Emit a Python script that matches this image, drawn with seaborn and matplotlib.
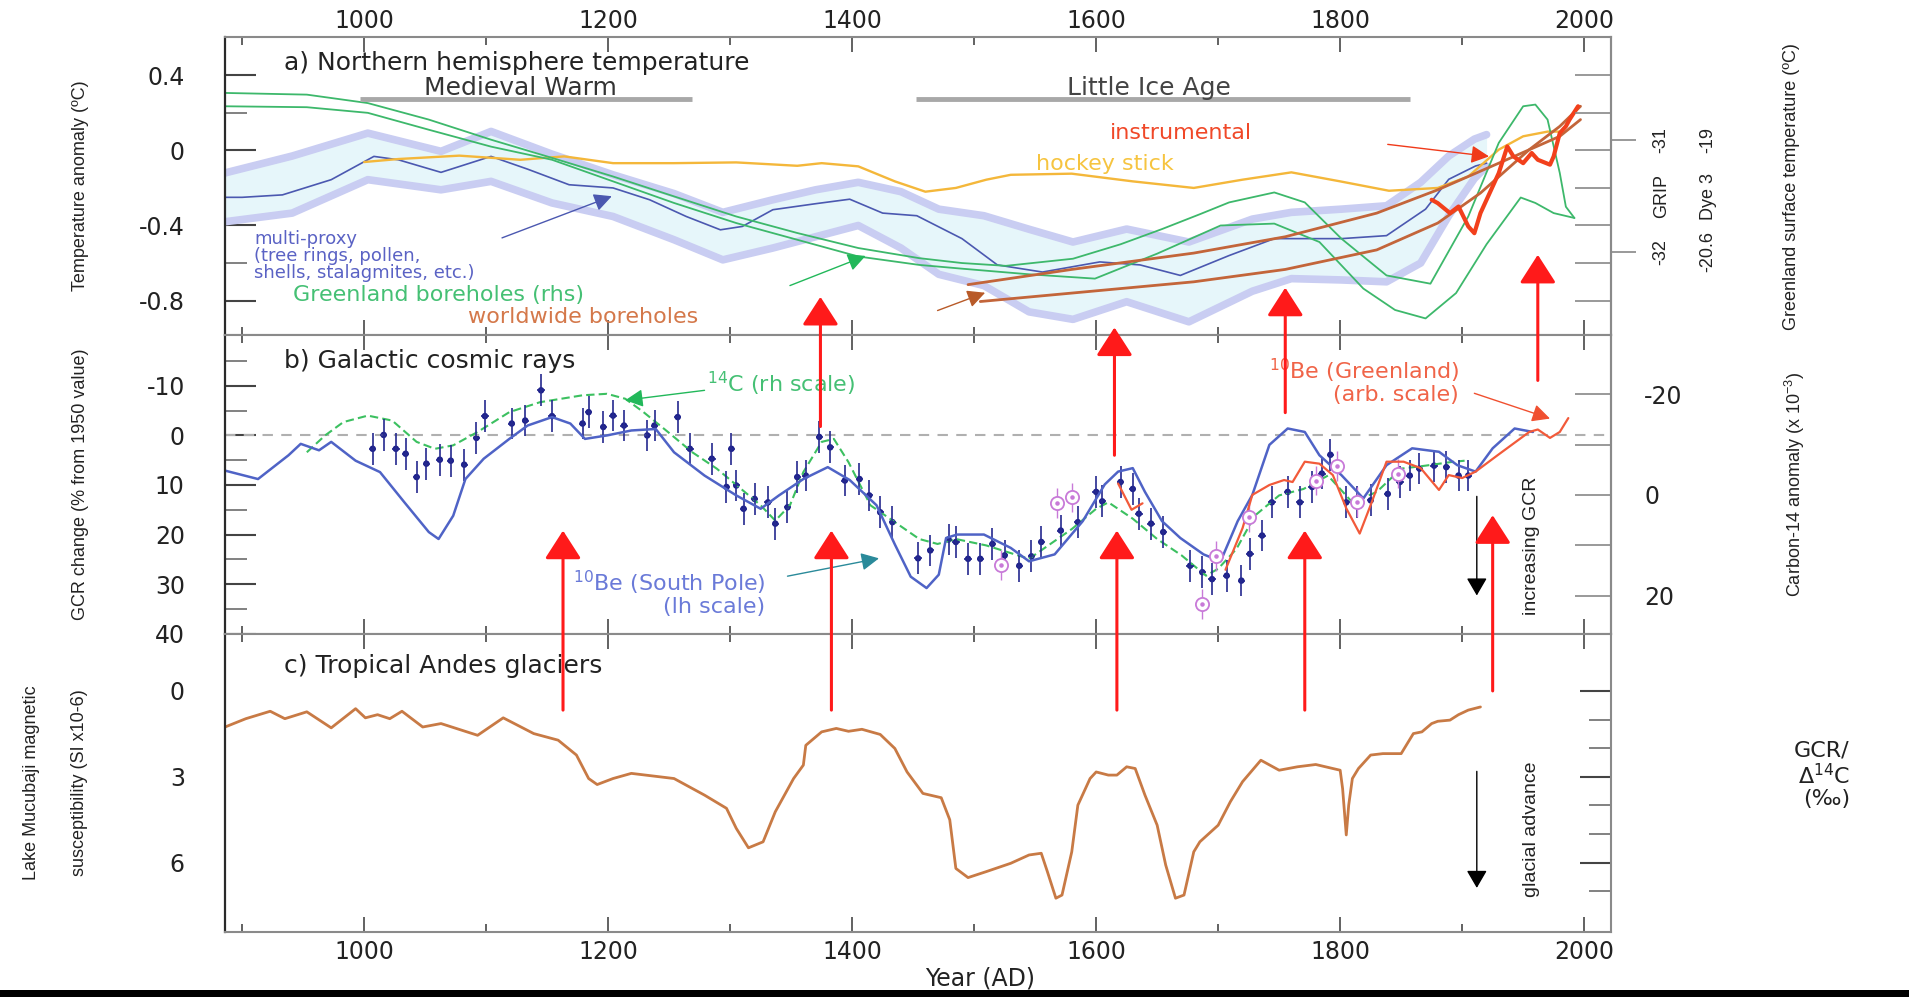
import matplotlib
matplotlib.use("Agg")
import matplotlib.pyplot as plt
import matplotlib.transforms as mtransforms
import seaborn as sns
from matplotlib.patches import Rectangle
from matplotlib.ticker import MultipleLocator, FixedLocator

# ---------------- panel a: Northern hemisphere temperature ----------------
proxy_years = [886, 900, 933, 973, 1008, 1028, 1063, 1104, 1134, 1168, 1204, 1234, 1264, 1292, 1310, 1335,
               1370, 1398, 1425, 1453, 1490, 1519, 1556, 1603, 1636, 1669, 1709, 1746, 1801, 1838, 1870,
               1889, 1911, 1920]
proxy_temp = [-0.25, -0.25, -0.237, -0.156, -0.032, -0.05, -0.117, -0.032, -0.10, -0.183, -0.20, -0.263,
              -0.352, -0.423, -0.405, -0.316, -0.284, -0.26, -0.334, -0.348, -0.47, -0.61, -0.648, -0.594,
              -0.61, -0.666, -0.56, -0.47, -0.47, -0.454, -0.313, -0.154, -0.083, -0.068]

band_years = [886, 941, 1003, 1063, 1104, 1154, 1204, 1254, 1294, 1335, 1370, 1405, 1440, 1471, 1508, 1545,
              1581, 1625, 1676, 1728, 1760, 1801, 1838, 1866, 1889, 1910, 1920]
band_upper = [-0.12, -0.03, 0.092, -0.005, 0.101, -0.02, -0.13, -0.23, -0.33, -0.263, -0.21, -0.17, -0.22,
              -0.313, -0.348, -0.42, -0.488, -0.419, -0.488, -0.366, -0.33, -0.313, -0.295, -0.17, -0.03,
              0.06, 0.084]
band_lower = [-0.38, -0.334, -0.156, -0.21, -0.165, -0.28, -0.352, -0.476, -0.583, -0.52, -0.46, -0.40, -0.52,
              -0.66, -0.72, -0.86, -0.90, -0.806, -0.913, -0.75, -0.683, -0.69, -0.70, -0.60, -0.348, -0.15,
              -0.085]

hockey_years = [1000, 1028, 1078, 1128, 1164, 1204, 1254, 1305, 1355, 1375, 1405, 1435, 1460, 1485, 1510,
                1530, 1580, 1630, 1680, 1720, 1760, 1800, 1840, 1880, 1905, 1930, 1950, 1970, 1980]
hockey_temp = [-0.062, -0.046, -0.028, -0.05, -0.032, -0.068, -0.068, -0.064, -0.082, -0.068, -0.085, -0.165,
               -0.22, -0.20, -0.156, -0.13, -0.124, -0.165, -0.20, -0.156, -0.117, -0.165, -0.215, -0.20,
               -0.139, 0.004, 0.075, 0.10, 0.10]

instr_years = [1875, 1880, 1890, 1897, 1905, 1910, 1915, 1920, 1930, 1937, 1942, 1950, 1957, 1962, 1972,
               1975, 1980, 1985, 1988, 1995]
instr_temp = [-0.263, -0.281, -0.334, -0.299, -0.405, -0.441, -0.334, -0.263, -0.121, 0.021, -0.032, -0.068,
              -0.014, -0.05, -0.076, -0.032, 0.092, 0.128, 0.164, 0.235]

grip_years = [886, 953, 1003, 1053, 1104, 1154, 1204, 1254, 1305, 1355, 1405, 1455, 1490, 1526, 1581, 1620,
              1654, 1685, 1709, 1746, 1771, 1801, 1838, 1874, 1905, 1930, 1950, 1960, 1970, 1980, 1985, 1992]
grip_temp = [0.306, 0.297, 0.252, 0.164, 0.057, -0.04, -0.139, -0.245, -0.352, -0.44, -0.52, -0.574, -0.6,
             -0.615, -0.577, -0.5, -0.419, -0.34, -0.277, -0.224, -0.277, -0.47, -0.666, -0.71, -0.352, 0.04,
             0.235, 0.244, 0.164, -0.12, -0.3, -0.36]

dye3_years = [886, 953, 1003, 1053, 1104, 1154, 1204, 1254, 1305, 1355, 1405, 1455, 1490, 1545, 1599, 1650,
              1702, 1746, 1783, 1819, 1845, 1870, 1895, 1920, 1948, 1960, 1975, 1992]
dye3_temp = [0.235, 0.23, 0.2, 0.11, 0.02, -0.05, -0.165, -0.28, -0.387, -0.476, -0.565, -0.61, -0.63, -0.66,
             -0.683, -0.55, -0.4, -0.39, -0.488, -0.736, -0.85, -0.895, -0.76, -0.5, -0.251, -0.28, -0.334,
             -0.36]

world_hi_years = [1495, 1580, 1680, 1755, 1830, 1880, 1930, 1980, 1997]
world_hi_temp = [-0.715, -0.634, -0.547, -0.46, -0.334, -0.21, -0.068, 0.075, 0.164]
world_lo_years = [1505, 1580, 1680, 1755, 1830, 1880, 1915, 1955, 1980, 1997]
world_lo_temp = [-0.805, -0.76, -0.7, -0.634, -0.53, -0.387, -0.227, 0.004, 0.128, 0.235]

# ---------------- panel b: Galactic cosmic rays (% change, inverted) ----------------
be_sp_years = [886, 913, 938, 948, 963, 973, 993, 1013, 1033, 1053, 1061, 1073, 1083, 1098, 1119, 1134, 1154,
               1169, 1181, 1199, 1219, 1239, 1254, 1279, 1305, 1325, 1340, 1360, 1380, 1398, 1420, 1435,
               1448, 1461, 1471, 1477, 1486, 1508, 1530, 1545, 1566, 1589, 1607, 1618, 1630, 1640, 1654,
               1669, 1688, 1702, 1716, 1728, 1742, 1757, 1771, 1783, 1801, 1819, 1838, 1859, 1881, 1896,
               1911, 1925, 1943, 1958]
be_sp_gcr = [7.1, 8.8, 4.0, 1.7, 3.0, 1.3, 5.1, 7.4, 13.5, 19.5, 20.9, 16.2, 8.8, 4.7, 0.7, -2.0, -3.7, -2.4,
             0.7, 0.0, -1.0, -1.3, 3.4, 8.1, 12.1, 14.8, 12.1, 8.8, 6.4, 9.0, 14.1, 22.0, 28.5, 30.8, 28.1,
             20.7, 20.0, 20.0, 22.7, 25.4, 24.0, 17.3, 9.9, 7.3, 6.6, 11.4, 17.3, 20.7, 24.0, 25.4, 17.3,
             12.0, 1.9, -1.4, -0.7, 4.0, 8.0, 12.7, 6.0, 2.6, 3.3, 6.0, 7.3, 2.6, -1.4, -0.7]

be_gl1_years = [1618, 1629, 1638]
be_gl1_gcr = [9.7, 15.0, 13.7]
be_gl2_years = [1706, 1720, 1728, 1742, 1754, 1761, 1771, 1783, 1794, 1805, 1816, 1826, 1838, 1852, 1866,
                1881, 1889, 1900, 1911, 1929, 1955, 1962, 1972, 1980, 1987]
be_gl2_gcr = [27.1, 18.7, 12.0, 10.0, 9.0, 9.4, 5.3, 5.7, 8.0, 14.7, 19.8, 13.4, 5.3, 5.3, 6.6, 11.0, 8.0,
              8.6, 7.3, 4.0, -0.7, -1.2, 0.5, -0.7, -3.5]

c14_years = [953, 968, 983, 1003, 1023, 1043, 1058, 1073, 1093, 1119, 1144, 1179, 1199, 1214, 1229, 1249,
             1269, 1289, 1309, 1325, 1337, 1349, 1360, 1375, 1385, 1397, 1415, 1435, 1455, 1470, 1485, 1510,
             1545, 1580, 1600, 1610, 1630, 1650, 1670, 1690, 1700, 1715, 1730, 1750, 1770, 1790, 1810, 1830,
             1850, 1870, 1890, 1902]
c14_gcr = [3.4, 0.0, -2.7, -4.0, -3.0, 1.3, 2.7, 2.0, -0.7, -4.7, -6.7, -8.1, -8.4, -7.4, -4.7, -0.7, 3.4,
           6.7, 10.8, 14.1, 17.2, 14.1, 7.4, 1.3, 0.7, 5.4, 14.1, 17.5, 20.9, 21.9, 20.9, 22.2, 24.9, 18.9,
           14.8, 13.5, 16.8, 20.9, 24.2, 28.3, 26.9, 22.9, 16.2, 12.1, 10.8, 8.1, 13.5, 11.4, 6.7, 6.1, 5.4,
           5.1]

pts_years = [1007, 1016, 1026, 1034, 1043, 1051, 1062, 1071, 1082, 1092, 1099, 1121, 1132, 1145, 1154, 1179,
             1184, 1196, 1204, 1213, 1232, 1238, 1257, 1267, 1285, 1301, 1297, 1305, 1311, 1320, 1331, 1337,
             1347, 1355, 1362, 1373, 1382, 1394, 1406, 1414, 1423, 1433, 1454, 1464, 1479, 1485, 1495, 1505,
             1515, 1525, 1537, 1547, 1555, 1571, 1585, 1600, 1605, 1620, 1630, 1635, 1645, 1655, 1677, 1687,
             1695, 1707, 1719, 1726, 1736, 1744, 1757, 1767, 1777, 1785, 1792, 1805, 1814, 1825, 1839, 1849,
             1857, 1865, 1877, 1887, 1897, 1905]
pts_gcr = [2.7, -0.1, 2.7, 3.7, 8.4, 5.7, 4.9, 5.1, 5.9, 0.5, -3.9, -2.4, -3.0, -9.1, -3.9, -2.4, -4.7, -1.7,
           -4.0, -2.0, 0.0, -2.0, -3.7, 2.7, 4.7, 2.7, 10.4, 10.1, 14.8, 12.8, 13.5, 17.8, 14.5, 8.4, 8.1,
           0.3, 2.4, 9.1, 8.8, 12.1, 15.5, 17.5, 24.8, 23.2, 21.0, 21.5, 24.9, 24.9, 21.9, 24.2, 26.3, 24.4,
           21.5, 19.2, 17.5, 11.4, 13.3, 9.4, 10.8, 15.8, 17.8, 19.5, 26.3, 27.6, 29.0, 28.3, 29.3, 23.9,
           20.2, 13.5, 11.4, 13.5, 10.4, 7.7, 3.9, 13.5, 13.5, 13.1, 11.8, 9.4, 8.1, 6.7, 6.1, 6.4, 8.1, 8.1]

circ_years = [1522, 1568, 1580, 1687, 1698, 1725, 1780, 1797, 1814, 1847]
circ_gcr = [26.1, 13.7, 12.5, 34.0, 24.4, 16.5, 9.1, 6.1, 13.5, 7.7]

# ---------------- panel c: Tropical Andes glaciers ----------------
andes_years = [886, 903, 923, 935, 953, 973, 993, 1001, 1011, 1021, 1031, 1048, 1063, 1093, 1114, 1139, 1159,
               1174, 1184, 1191, 1204, 1219, 1254, 1279, 1297, 1305, 1315, 1327, 1337, 1352, 1360, 1362, 1375,
               1387, 1397, 1408, 1423, 1435, 1445, 1458, 1473, 1480, 1485, 1495, 1510, 1530, 1545, 1555, 1560,
               1567, 1572, 1580, 1585, 1595, 1600, 1610, 1617, 1625, 1632, 1640, 1650, 1657, 1665, 1672, 1680,
               1685, 1700, 1710, 1720, 1735, 1750, 1765, 1780, 1800, 1802, 1805, 1807, 1810, 1815, 1825, 1835,
               1850, 1860, 1867, 1875, 1880, 1890, 1897, 1905, 1915]
andes_sus = [1.26, 0.97, 0.71, 0.97, 0.73, 1.29, 0.62, 0.94, 0.83, 0.97, 0.71, 1.26, 1.14, 1.55, 0.94, 1.49,
             1.72, 2.24, 3.06, 3.27, 3.06, 2.88, 3.06, 3.64, 4.1, 4.8, 5.48, 5.27, 4.22, 3.06, 2.59, 1.9, 1.43,
             1.31, 1.41, 1.34, 1.52, 2.01, 2.83, 3.58, 3.73, 4.5, 6.2, 6.52, 6.31, 6.02, 5.73, 5.67, 6.31, 7.24,
             7.13, 5.62, 3.99, 3.06, 2.83, 2.94, 2.94, 2.65, 2.71, 3.64, 4.69, 6.08, 7.24, 7.13, 5.62, 5.27,
             4.69, 3.87, 3.17, 2.42, 2.77, 2.65, 2.57, 2.77, 3.41, 5.03, 3.99, 3.06, 2.71, 2.24, 2.19, 2.19,
             1.49, 1.43, 1.14, 1.06, 1.02, 0.83, 0.67, 0.56]

# red "solar minimum" arrows: (year, tail value, head value)
arrows_c_to_b = [(1163, 0.67, 19.2), (1383, 0.67, 19.2), (1617, 0.67, 19.2), (1771, 0.67, 19.2), (1925, 0.0, 16.1)]
arrows_b_to_a = [(1374, -1.8, -0.78), (1615, 4.0, -0.943), (1755, -4.6, -0.731), (1962, -11.1, -0.556)]

ROT_FONT = "Liberation Sans"


def line(ax, xs, ys, color, lw, **kw):
    sns.lineplot(x=xs, y=ys, ax=ax, color=color, lw=lw, estimator=None, sort=False, legend=False, **kw)


sns.set_style("white")
plt.rcParams["font.family"] = ["DejaVu Sans"]
plt.rcParams["mathtext.default"] = "regular"

fig, (ax_a, ax_b, ax_c) = plt.subplots(3, 1, sharex=True, figsize=(19.09, 9.97), dpi=100)
fig.subplots_adjust(left=0.1179, right=0.8439, top=0.9629, bottom=0.0652, hspace=0)

# ---- panel a ----
ax_a.fill_between(band_years, band_lower, band_upper, color="#e6f6fa", lw=0)
line(ax_a, band_years, band_upper, "#c9cdf2", 5.5)
line(ax_a, band_years, band_lower, "#c9cdf2", 5.5)
line(ax_a, proxy_years, proxy_temp, "#4b58b0", 1.2)
line(ax_a, hockey_years, hockey_temp, "#f4b73a", 1.7)
line(ax_a, grip_years, grip_temp, "#3db86b", 1.3)
line(ax_a, dye3_years, dye3_temp, "#3db86b", 1.3)
line(ax_a, world_hi_years, world_hi_temp, "#c3653a", 2.0)
line(ax_a, world_lo_years, world_lo_temp, "#c3653a", 2.0)
line(ax_a, instr_years, instr_temp, "#f2401c", 3.0)

ax_a.set_ylim(-0.985, 0.604)
ax_a.yaxis.set_major_locator(FixedLocator([0.4, 0.0, -0.4, -0.8]))
ax_a.set_yticklabels(["0.4", "0", "-0.4", "-0.8"])
ax_a.yaxis.set_minor_locator(FixedLocator([0.2, -0.2, -0.6]))

ax_a.text(934, 0.466, "a) Northern hemisphere temperature", fontsize=18, color="#222222", va="center")
ax_a.text(1128, 0.33, "Medieval Warm", fontsize=18, color="#333333", ha="center", va="center")
ax_a.hlines(0.272, 997, 1269, color="#a8a8a8", lw=3.5)
ax_a.text(1643, 0.33, "Little Ice Age", fontsize=18, color="#444444", ha="center", va="center")
ax_a.hlines(0.272, 1452, 1857, color="#a8a8a8", lw=3.5)

ax_a.text(910, -0.425, "multi-proxy\n(tree rings, pollen,\nshells, stalagmites, etc.)", fontsize=13,
          color="#5a62c4", va="top", linespacing=0.92)
ax_a.text(942, -0.768, "Greenland boreholes (rhs)", fontsize=16, color="#45c074", va="center")
ax_a.text(1085, -0.885, "worldwide boreholes", fontsize=16, color="#d4784a", va="center")
ax_a.text(1611, 0.09, "instrumental", fontsize=16, color="#f04828", va="center")
ax_a.text(1551, -0.074, "hockey stick", fontsize=16, color="#f6c440", va="center")

small_head = "-|>,head_length=0.6,head_width=0.3"
ax_a.annotate("", xy=(1203, -0.244), xytext=(1113, -0.466),
              arrowprops=dict(arrowstyle=small_head, mutation_scale=18, color="#4b58b0", lw=1.0, shrinkA=0, shrinkB=0))
ax_a.annotate("", xy=(1411, -0.562), xytext=(1349, -0.72),
              arrowprops=dict(arrowstyle=small_head, mutation_scale=18, color="#22b85a", lw=1.0, shrinkA=0, shrinkB=0))
ax_a.annotate("", xy=(1509, -0.758), xytext=(1470, -0.853),
              arrowprops=dict(arrowstyle=small_head, mutation_scale=18, color="#b85a28", lw=1.0, shrinkA=0, shrinkB=0))
ax_a.annotate("", xy=(1922, -0.032), xytext=(1839, 0.032),
              arrowprops=dict(arrowstyle=small_head, mutation_scale=18, color="#f03a1a", lw=1.0, shrinkA=0, shrinkB=0))

ax_a.set_ylabel("Temperature anomaly (ºC)", fontsize=13, family=ROT_FONT, color="#222222")
ax_a.yaxis.set_label_coords(-0.098, 0.5)

ax_a2 = ax_a.twinx()
ax_a2.set_ylim(ax_a.get_ylim())
ax_a2.yaxis.set_major_locator(FixedLocator([0.055, -0.54]))
ax_a2.set_yticklabels(["-31\n-19", "-32\n-20.6"], rotation=90, va="center", ha="left", linespacing=3.3,
                      multialignment="center", family=ROT_FONT, fontsize=13, color="#222222")
ax_a2.yaxis.set_minor_locator(FixedLocator([0.4, 0.2, 0.0, -0.2, -0.4, -0.6, -0.8]))
ax_a2.tick_params(axis="y", which="major", direction="out", length=18, width=1.2, pad=12, colors="#888888",
                  labelcolor="#222222")
ax_a2.tick_params(axis="y", which="minor", direction="in", length=26, width=1.2, colors="#888888")
ax_a2.text(1.0303, -0.244, "GRIP\nDye 3", transform=mtransforms.blended_transform_factory(ax_a2.transAxes, ax_a2.transData),
           rotation=90, ha="left", va="center", linespacing=3.3, multialignment="center", family=ROT_FONT,
           fontsize=13, color="#222222")
ax_a2.set_ylabel("Greenland surface temperature (ºC)", fontsize=13, family=ROT_FONT, color="#222222")
ax_a2.yaxis.set_label_coords(1.124, 0.5)

# ---- panel b ----
ax_b.axhline(0, color="#b0b0b0", lw=1.5, ls=(0, (5, 4)))
line(ax_b, c14_years, c14_gcr, "#3cc060", 1.5, linestyle=(0, (4, 2)))
ax_b.errorbar(pts_years, pts_gcr, yerr=3.2, xerr=3, fmt="none", ecolor="#25298f", elinewidth=1.2, capsize=0)
sns.scatterplot(x=pts_years, y=pts_gcr, ax=ax_b, color="#1c1f8a", s=22, edgecolor="none", legend=False)
ax_b.errorbar(circ_years, circ_gcr, yerr=3, fmt="none", ecolor="#c87ad8", elinewidth=1.0, capsize=0)
ax_b.scatter(circ_years, circ_gcr, s=90, facecolors="white", edgecolors="#c87ad8", lw=1.3, zorder=3)
ax_b.scatter(circ_years, circ_gcr, s=5, color="#c87ad8", zorder=4)
line(ax_b, be_sp_years, be_sp_gcr, "#4f63c6", 1.8)
line(ax_b, be_gl1_years, be_gl1_gcr, "#f25a3a", 1.6)
line(ax_b, be_gl2_years, be_gl2_gcr, "#f25a3a", 1.6)

ax_b.set_ylim(40, -20.2)
ax_b.yaxis.set_major_locator(FixedLocator([-10, 0, 10, 20, 30, 40]))
ax_b.set_yticklabels(["-10", "0", "10", "20", "30", "40"])
ax_b.yaxis.set_minor_locator(FixedLocator([-15, -5, 5, 15, 25, 35]))

ax_b.text(934, -15.1, "b) Galactic cosmic rays", fontsize=18, color="#222222", va="center")
ax_b.text(1281, -10.3, "$^{14}$C (rh scale)", fontsize=16, color="#45c074", va="center")
ax_b.annotate("", xy=(1214, -7.1), xytext=(1279, -9.1),
              arrowprops=dict(arrowstyle=small_head, mutation_scale=18, color="#22b85a", lw=1.0, shrinkA=0, shrinkB=0))
ax_b.text(1329, 31.7, "$^{10}$Be (South Pole)\n(lh scale)", fontsize=16, color="#6a7ad8", ha="right",
          va="center", multialignment="right", linespacing=1.0)
ax_b.annotate("", xy=(1422, 24.8), xytext=(1347, 28.4),
              arrowprops=dict(arrowstyle=small_head, mutation_scale=18, color="#2a8a9a", lw=1.0, shrinkA=0, shrinkB=0))
ax_b.text(1897, -11.1, "$^{10}$Be (Greenland)\n(arb. scale)", fontsize=16, color="#f06448", ha="right",
          va="center", multialignment="right", linespacing=1.0)
ax_b.annotate("", xy=(1972, -3.4), xytext=(1910, -8.5),
              arrowprops=dict(arrowstyle=small_head, mutation_scale=18, color="#f05030", lw=1.0, shrinkA=0, shrinkB=0))
ax_b.text(1957, 22.2, "increasing GCR", rotation=90, ha="center", va="center", fontsize=14, family=ROT_FONT,
          color="#222222")
ax_b.annotate("", xy=(1912, 32.3), xytext=(1912, 12.3),
              arrowprops=dict(arrowstyle="-|>,head_length=0.6,head_width=0.35", mutation_scale=18, color="black",
                              lw=1.0, shrinkA=0, shrinkB=0))

ax_b.set_ylabel("GCR change (% from 1950 value)", fontsize=13, family=ROT_FONT, color="#222222")
ax_b.yaxis.set_label_coords(-0.098, 0.5)

ax_b2 = ax_b.twinx()
ax_b2.set_ylim(27.55, -31.7)
ax_b2.yaxis.set_major_locator(FixedLocator([-20, 0, 20]))
ax_b2.set_yticklabels(["-20", "0", "20"])
ax_b2.yaxis.set_minor_locator(FixedLocator([-10, 10]))
ax_b2.tick_params(axis="y", which="both", direction="in", length=26, width=1.2, pad=24, colors="#888888",
                  labelcolor="#222222", labelsize=17)
ax_b2.set_ylabel("Carbon-14 anomaly (x 10$^{-3}$)", fontsize=13, family=ROT_FONT, color="#222222")
ax_b2.yaxis.set_label_coords(1.124, 0.5)

# ---- panel c ----
line(ax_c, andes_years, andes_sus, "#c87a45", 2.0)
ax_c.set_ylim(8.42, -2.0)
ax_c.yaxis.set_major_locator(FixedLocator([0, 3, 6]))
ax_c.set_yticklabels(["0", "3", "6"])
ax_c.yaxis.set_minor_locator(FixedLocator([1, 2, 4, 5, 7]))
ax_c.text(934, -0.88, "c) Tropical Andes glaciers", fontsize=18, color="#222222", va="center")
ax_c.text(1957, 4.84, "glacial advance", rotation=90, ha="center", va="center", fontsize=14, family=ROT_FONT,
          color="#222222")
ax_c.annotate("", xy=(1912, 6.88), xytext=(1912, 2.81),
              arrowprops=dict(arrowstyle="-|>,head_length=0.6,head_width=0.35", mutation_scale=18, color="black",
                              lw=1.0, shrinkA=0, shrinkB=0))
ax_c.set_ylabel("Lake Mucubaji magnetic\nsusceptibility (SI x10-6)", fontsize=13, family=ROT_FONT,
                color="#222222", linespacing=3.4)
ax_c.yaxis.set_label_coords(-0.099, 0.5)
ax_c.set_xlabel("Year (AD)", fontsize=17, color="#222222")
ax_c.xaxis.set_label_coords(0.545, -0.115)

# ---- red arrows linking the panels ----
red_style = dict(arrowstyle="-|>,head_length=0.7,head_width=0.45", mutation_scale=25, color="#ff1a1a", lw=2.2,
                 shrinkA=0, shrinkB=0)
for yr, tail, head in arrows_c_to_b:
    ax_c.annotate("", xy=(yr, head), xycoords=ax_b.transData, xytext=(yr, tail), textcoords=ax_c.transData,
                  arrowprops=red_style, annotation_clip=False)
for yr, tail, head in arrows_b_to_a:
    ax_b.annotate("", xy=(yr, head), xycoords=ax_a.transData, xytext=(yr, tail), textcoords=ax_b.transData,
                  arrowprops=red_style, annotation_clip=False)

# ---- shared x axis and frame styling ----
ax_c.set_xlim(886, 2022)
ax_c.xaxis.set_major_locator(MultipleLocator(200))
ax_c.xaxis.set_minor_locator(MultipleLocator(100))

for ax in (ax_a, ax_b, ax_c):
    ax.tick_params(axis="x", which="major", direction="in", top=True, bottom=True, length=11, width=1.3,
                   colors="#555555", labelcolor="#222222", labelsize=17)
    ax.tick_params(axis="x", which="minor", direction="in", top=True, bottom=True, length=6, width=1.3,
                   colors="#555555")
    ax.tick_params(axis="y", which="major", direction="in", length=22, width=1.5, pad=29, colors="#444444",
                   labelcolor="#222222", labelsize=17)
    ax.tick_params(axis="y", which="minor", direction="in", length=16, width=1.3, colors="#777777")
    for side in ("top", "bottom", "right"):
        ax.spines[side].set_color("#8a8a8a")
        ax.spines[side].set_linewidth(1.5)
    ax.spines["left"].set_color("#2a2a2a")
    ax.spines["left"].set_linewidth(1.6)

for ax in (ax_a2, ax_b2):
    for side in ("top", "bottom", "left"):
        ax.spines[side].set_visible(False)
    ax.spines["right"].set_color("#8a8a8a")
    ax.spines["right"].set_linewidth(1.5)

ax_a.tick_params(axis="x", labeltop=True, labelbottom=False, pad=3)
ax_b.tick_params(axis="x", labeltop=False, labelbottom=False)
ax_c.tick_params(axis="x", labeltop=False, labelbottom=True, pad=6)
ax_c.tick_params(axis="y", which="both", right=True)

fig.text(0.969, 0.2227, "GCR/\nΔ$^{14}$C\n(‰)", ha="right", va="center", fontsize=16, color="#222222",
         multialignment="right", linespacing=1.1)

fig.add_artist(Rectangle((0, 0), 1, 0.007, transform=fig.transFigure, color="black", lw=0))

fig.savefig("out.png", dpi=100, facecolor="white")
